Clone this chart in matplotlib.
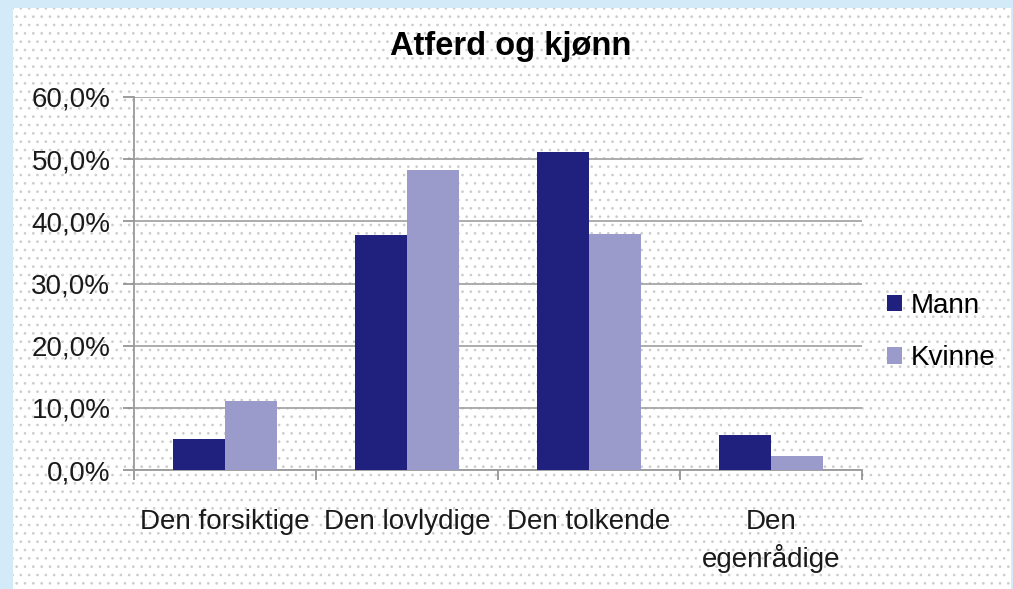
import matplotlib
matplotlib.use("Agg")
import matplotlib.pyplot as plt
from matplotlib.patches import Rectangle
import numpy as np

categories = ["Den forsiktige", "Den lovlydige", "Den tolkende", "Den\negenrådige"]
mann = [5.0, 37.8, 51.2, 5.6]
kvinne = [11.1, 48.3, 37.9, 2.2]
yticks = [0, 10, 20, 30, 40, 50, 60]
ylabels = ["0,0%", "10,0%", "20,0%", "30,0%", "40,0%", "50,0%", "60,0%"]

plt.rcParams["font.family"] = ["Liberation Sans", "DejaVu Sans"]
plt.rcParams["hatch.linewidth"] = 0.7

fig = plt.figure(figsize=(10.13, 5.89), dpi=100)
fig.patch.set_facecolor("#d3ebf8")

# dotted chart background
bg = fig.add_axes([0, 0, 1, 1], zorder=-1)
bg.set_axis_off()
bg.set_xlim(0, 1013)
bg.set_ylim(589, 0)
bg.add_patch(Rectangle((13, 8), 998, 590, facecolor="white", edgecolor="none"))
bg.add_patch(Rectangle((13, 8), 998, 590, facecolor="none", hatch="..",
                       edgecolor="#cccccc", lw=0))

ax = fig.add_axes([134 / 1013, 1 - 470 / 589, 728 / 1013, 373 / 589])
ax.patch.set_alpha(0)

x = np.arange(len(categories))
w = 0.286
ax.bar(x - w / 2, mann, w, color="#20207e", label="Mann", zorder=3)
ax.bar(x + w / 2, kvinne, w, color="#9a9acb", label="Kvinne", zorder=3)

ax.set_xlim(-0.5, len(categories) - 0.5)
ax.set_ylim(0, 60)
ax.set_yticks(yticks)
ax.set_yticklabels(ylabels, fontsize=20, color="#1a1a1a")
ax.yaxis.grid(True, color="#a6a6a6", lw=1.3, zorder=0)
ax.set_axisbelow(True)

ax.set_xticks(x)
ax.set_xticklabels(categories, fontsize=20, color="#1a1a1a", linespacing=1.4)
ax.set_xticks(np.arange(len(categories) + 1) - 0.5, minor=True)
ax.tick_params(axis="x", which="major", length=0, pad=28)
ax.tick_params(axis="x", which="minor", length=7, color="#8c8c8c", width=1.2)
ax.tick_params(axis="y", length=8, color="#8c8c8c", width=1.2, pad=9)

for s in ["top", "right"]:
    ax.spines[s].set_visible(False)
for s in ["left", "bottom"]:
    ax.spines[s].set_color("#9a9a9a")
    ax.spines[s].set_linewidth(1.3)

fig.text(511 / 1013, 1 - 46 / 589, "Atferd og kjønn", ha="center", va="center",
         fontsize=23.5, fontweight="bold")

ax.legend(loc="center left", bbox_to_anchor=(1.015, 0.37), frameon=False,
          fontsize=20, handlelength=0.55, handleheight=0.55, handletextpad=0.3,
          labelspacing=0.95, borderpad=0)

fig.savefig("out.png", dpi=100, facecolor=fig.get_facecolor())
